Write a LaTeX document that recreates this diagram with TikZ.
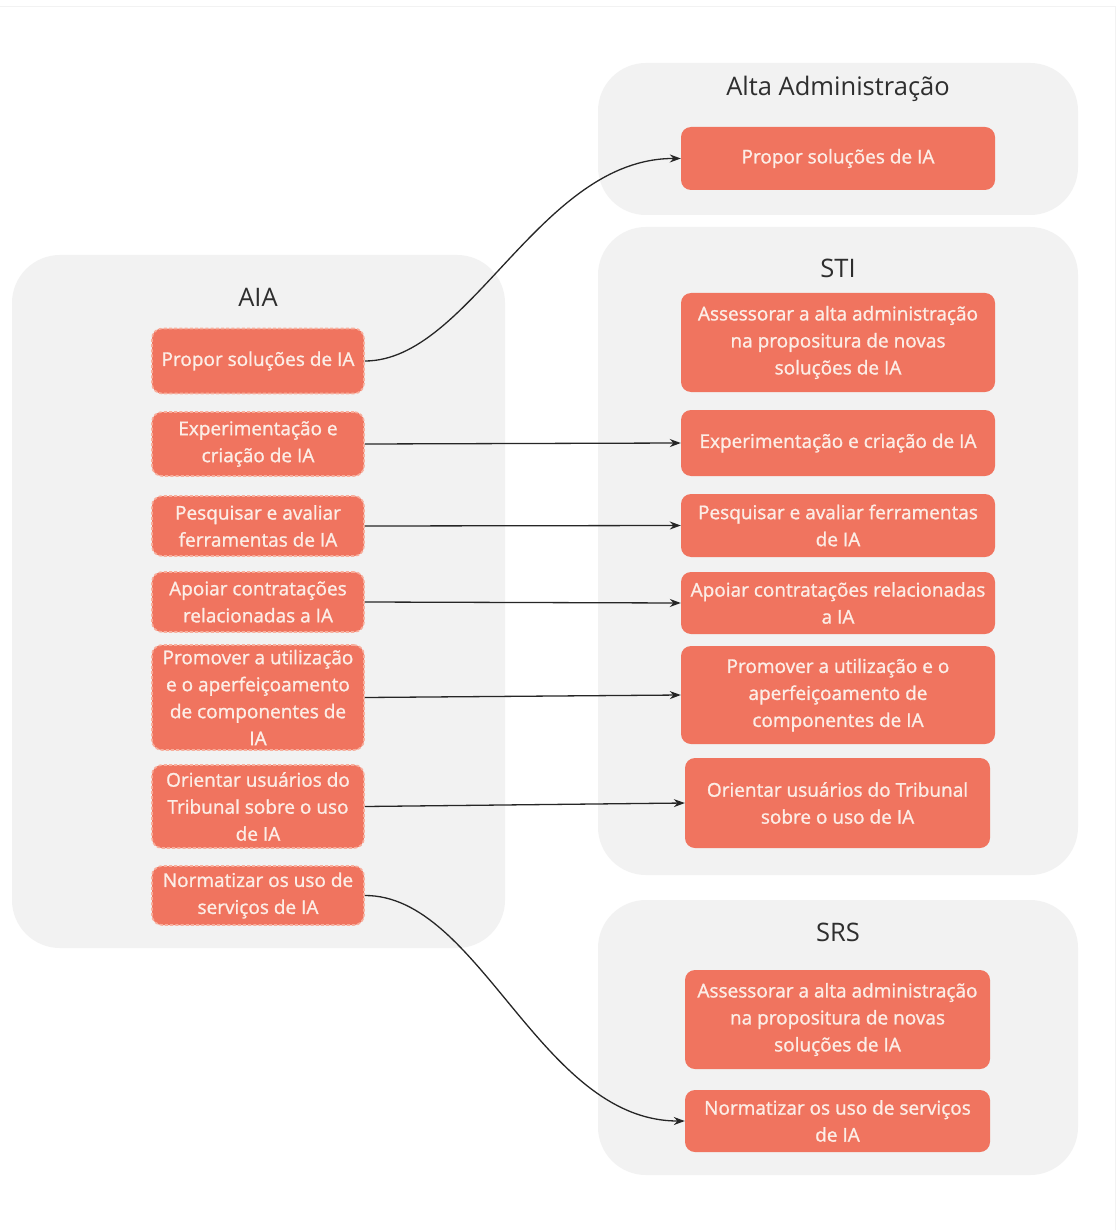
\documentclass[tikz,border=0pt]{standalone}
\usepackage{fontspec}
\setmainfont{Open Sans}
\newfontfamily\taskfont[FakeBold=1.2]{Open Sans}
\usetikzlibrary{arrows.meta}
\definecolor{panel}{HTML}{F2F2F2}
\definecolor{coral}{HTML}{F0745F}
\definecolor{cream}{HTML}{FCEDE6}
\definecolor{dashc}{HTML}{F8AE9C}
\definecolor{heading}{HTML}{2E2E2E}
\begin{document}
\begin{tikzpicture}[x=1pt,y=-1pt,
  grp/.style={fill=panel, draw=none, rounded corners=48pt, inner sep=0pt},
  ttl/.style={text=heading, font=\fontsize{25.5}{30}\selectfont, inner sep=0pt},
  box/.style={fill=coral, draw=none, rounded corners=10pt, inner sep=0pt,
    text=cream, align=center, font=\taskfont\fontsize{19}{27}\selectfont},
  dbox/.style={box, draw=dashc, line width=1.6pt, dash pattern=on 3pt off 2.2pt},
  arr/.style={draw=black!85, line width=1.3pt, -{Stealth[length=11pt,width=8pt]}}]

\useasboundingbox (0,0) rectangle (1117,1230);
\fill[white] (0,0) rectangle (1117,1230);
\draw[black!5, line width=1pt] (0,7) -- (1115,7) -- (1115,1230);

% group panels
\node[grp, minimum width=493, minimum height=693] (aia) at (258.5,601.5) {};
\node[grp, minimum width=480, minimum height=152] (alta) at (838,139) {};
\node[grp, minimum width=480, minimum height=648] (sti) at (838,551) {};
\node[grp, minimum width=480, minimum height=275] (srs) at (838,1037.5) {};

% panel headings
\node[ttl] (taia) at (258,297) {AIA};
\node[ttl] (talta) at (838,89) {Alta Administração};
\node[ttl] (tsti) at (838,268) {STI};
\node[ttl] (tsrs) at (838,932) {SRS};

% AIA tasks
\node[dbox, minimum width=212, minimum height=65] (a1) at (258,361) {Propor soluções de IA};
\node[dbox, minimum width=212, minimum height=64] (a2) at (258,444) {Experimentação e\\criação de IA};
\node[dbox, minimum width=212, minimum height=60] (a3) at (258,526) {Pesquisar e avaliar\\ferramentas de IA};
\node[dbox, minimum width=212, minimum height=60] (a4) at (258,602) {Apoiar contratações\\relacionadas a IA};
\node[dbox, minimum width=212, minimum height=105] (a5) at (258,697.5) {Promover a utilização\\e o aperfeiçoamento\\de componentes de\\IA};
\node[dbox, minimum width=212, minimum height=83] (a6) at (258,806.5) {Orientar usuários do\\Tribunal sobre o uso\\de IA};
\node[dbox, minimum width=212, minimum height=59] (a7) at (258,895.5) {Normatizar os uso de\\serviços de IA};

% Alta Administração task
\node[box, minimum width=314, minimum height=63] (h1) at (838,158.5) {Propor soluções de IA};

% STI tasks
\node[box, minimum width=314, minimum height=99] (s0) at (838,342.5) {Assessorar a alta administração\\na propositura de novas\\soluções de IA};
\node[box, minimum width=314, minimum height=66] (s2) at (838,443) {Experimentação e criação de IA};
\node[box, minimum width=314, minimum height=63] (s3) at (838,525.5) {Pesquisar e avaliar ferramentas\\de IA};
\node[box, minimum width=314, minimum height=62] (s4) at (838,603) {Apoiar contratações relacionadas\\a IA};
\node[box, minimum width=314, minimum height=98] (s5) at (838,695) {Promover a utilização e o\\aperfeiçoamento de\\componentes de IA};
\node[box, minimum width=305, minimum height=90] (s6) at (837.5,803) {Orientar usuários do Tribunal\\sobre o uso de IA};

% SRS tasks
\node[box, minimum width=305, minimum height=99] (r0) at (837.5,1019.5) {Assessorar a alta administração\\na propositura de novas\\soluções de IA};
\node[box, minimum width=305, minimum height=62] (r7) at (837.5,1121) {Normatizar os uso de serviços\\de IA};

% connectors
\draw[arr] (a1.east) .. controls (470,361) and (540,158) .. (h1.west);
\draw[arr] (a2.east) -- (s2.west);
\draw[arr] (a3.east) -- (s3.west);
\draw[arr] (a4.east) -- (s4.west);
\draw[arr] (a5.east) -- (s5.west);
\draw[arr] (a6.east) -- (s6.west);
\draw[arr] (a7.east) .. controls (480,895) and (540,1121) .. (r7.west);
\end{tikzpicture}
\end{document}
